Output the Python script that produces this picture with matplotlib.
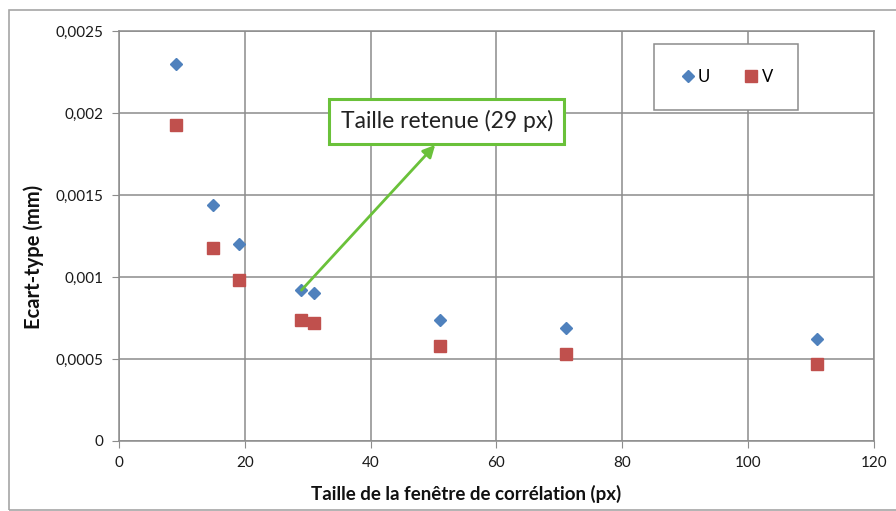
import matplotlib.pyplot as plt
from matplotlib.patches import Rectangle
from matplotlib.ticker import FuncFormatter

# taille de fenêtre (px) et écart-type mesuré (mm)
taille = [9, 15, 19, 29, 31, 51, 71, 111]
ecart_u = [0.00230, 0.00144, 0.00120, 0.00092, 0.00090, 0.00074, 0.00069, 0.00062]
ecart_v = [0.00193, 0.00118, 0.00098, 0.00074, 0.00072, 0.00058, 0.00053, 0.00047]

taille_retenue = 29
ecart_retenu = 0.00092

plt.rcParams['font.family'] = ['Lato', 'DejaVu Sans']

fig = plt.figure(figsize=(8.96, 5.11), dpi=100)
ax = fig.add_axes([0.1328, 0.137, 0.8426, 0.802])

# cadre extérieur du graphique (ouvert à droite)
fig.patches.append(Rectangle((0.010, 0.002), 1.2, 0.978, transform=fig.transFigure,
                             fill=False, edgecolor='#a6a6a6', linewidth=1.2))

ax.plot(taille, ecart_u, linestyle='none', marker='D', markersize=6.5,
        color='#4f81bd', label='U', zorder=3)
ax.plot(taille, ecart_v, linestyle='none', marker='s', markersize=8.5,
        color='#c0504d', label='V', zorder=3)

ax.set_xlim(0, 120)
ax.set_ylim(0, 0.0025)
ax.set_xticks(range(0, 121, 20))
ax.set_yticks([0, 0.0005, 0.001, 0.0015, 0.002, 0.0025])


def virgule(v, pos):
    if v == 0:
        return '0'
    return ('%g' % v).replace('.', ',')


ax.yaxis.set_major_formatter(FuncFormatter(virgule))
ax.grid(True, color='#8c8c8c', linewidth=1.1)
ax.set_axisbelow(True)
for s in ax.spines.values():
    s.set_color('#8c8c8c')
    s.set_linewidth(1.1)
ax.tick_params(direction='out', length=5, color='#8c8c8c', labelsize=11,
               labelcolor='#1a1a1a', pad=6)

ax.set_xlabel('Taille de la fenêtre de corrélation (px)', fontsize=13.5,
              fontweight='bold', color='#111111')
ax.set_ylabel('Ecart-type (mm)', fontsize=14.5, fontweight='bold', color='#111111')
ax.xaxis.set_label_coords(0.46, -0.108)
ax.yaxis.set_label_coords(-0.099, 0.449)

leg = ax.legend(loc='center', ncol=2, bbox_to_anchor=(0.706, 0.807, 0.196, 0.161),
                fontsize=12, fancybox=False, framealpha=1, edgecolor='#8c8c8c',
                borderpad=1.5, handletextpad=0.1, columnspacing=2.0,
                handlelength=1.0)
leg.get_frame().set_linewidth(1.1)

ax.annotate('Taille retenue (29 px)', xy=(taille_retenue, ecart_retenu),
            xytext=(52.1, 0.00195), fontsize=16.5, color='#222222',
            ha='center', va='center',
            bbox=dict(boxstyle='square,pad=0.5', facecolor='white',
                      edgecolor='#6ac13a', linewidth=2.2),
            arrowprops=dict(arrowstyle='<|-', color='#6ac13a', lw=2,
                            mutation_scale=18, shrinkA=0, shrinkB=0,
                            relpos=(0.5, 0)),
            zorder=4)

fig.savefig('out.png', dpi=100)
